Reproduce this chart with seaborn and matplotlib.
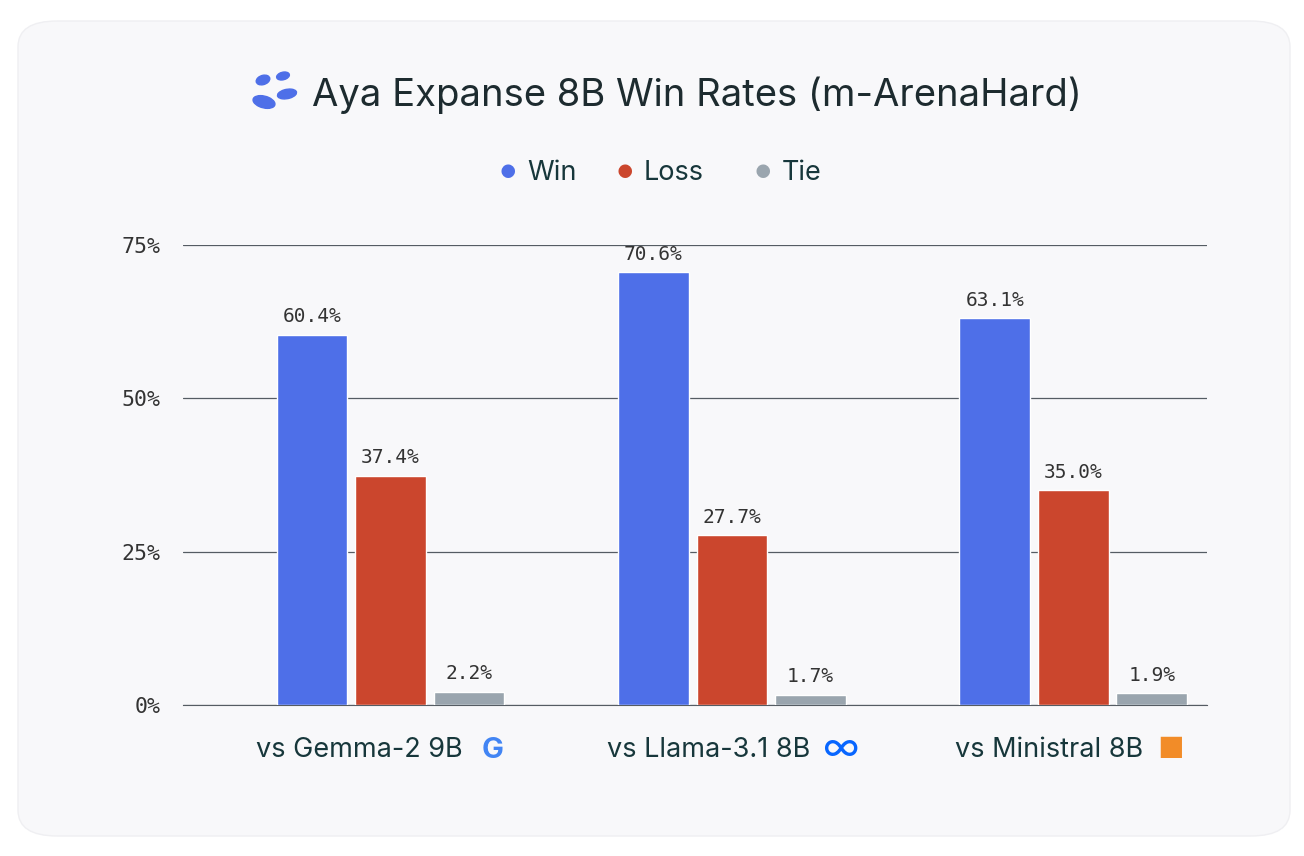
import matplotlib.pyplot as plt
import seaborn as sns
import pandas as pd
from matplotlib.patches import FancyBboxPatch, Ellipse

# data
opponents = ["vs Gemma-2 9B", "vs Llama-3.1 8B", "vs Ministral 8B"]
win = [60.4, 70.6, 63.1]
loss = [37.4, 27.7, 35.0]
tie = [2.2, 1.7, 1.9]
outcomes = ["Win", "Loss", "Tie"]
colors = ["#4e6fe8", "#cb462d", "#9aa5ae"]

rows = []
for i, opp in enumerate(opponents):
    for name, vals in zip(outcomes, [win, loss, tie]):
        rows.append({"opponent": opp, "outcome": name, "rate": vals[i]})
df = pd.DataFrame(rows)

sns.set_style("white")
plt.rcParams['font.family'] = ['Inter', 'DejaVu Sans']

fig = plt.figure(figsize=(13.04, 8.56), dpi=100)
fig.patch.set_facecolor("white")
card = FancyBboxPatch((18 / 1304, 20 / 856), 1272 / 1304, 815 / 856,
                      boxstyle="round,pad=0,rounding_size=0.03",
                      transform=fig.transFigure, facecolor="#f8f8fa",
                      edgecolor="#efeff2", lw=1, zorder=-5)
fig.patches.append(card)

ax = fig.add_axes([183 / 1304, 1 - 705 / 856, 1024 / 1304, 460 / 856])
ax.set_zorder(2)
ax.set_facecolor("none")
sns.barplot(data=df, x="opponent", y="rate", hue="outcome", palette=colors,
            width=0.69, gap=0.1, saturation=1, ax=ax, legend=False, zorder=3)
ax.set_xlim(-0.608, 2.392)
ax.set_ylim(0, 75)
ax.set_yticks([0, 25, 50, 75])
ax.set_yticklabels(["0%", "25%", "50%", "75%"], family="DejaVu Sans Mono",
                   fontsize=15.5, color="#333333")
ax.yaxis.grid(True, color="#555c63", lw=0.9)
ax.set_axisbelow(True)
for s in ["top", "left", "right"]:
    ax.spines[s].set_visible(False)
ax.spines["bottom"].set_color("#555c63")
ax.tick_params(axis="y", length=0, pad=16)
ax.tick_params(axis="x", length=0, labelbottom=False)
ax.set_xlabel("")
ax.set_ylabel("")

for cont in ax.containers:
    ax.bar_label(cont, labels=[f"{v:.1f}%" for v in cont.datavalues], padding=6,
                 family="DejaVu Sans Mono", fontsize=14, color="#333333")

# category labels with small brand marks
for name, xr in zip(opponents, [463, 810, 1143]):
    fig.text(xr / 1304, 1 - 750 / 856, name, fontsize=19.5, color="#17373b",
             ha="right", va="center")
fig.text(493 / 1304, 1 - 750 / 856, "G", fontsize=21, fontweight="bold",
         color="#4285f4", ha="center", va="center")
fig.text(840 / 1304, 1 - 750 / 856, "∞", fontsize=28, color="#0866ff",
         ha="center", va="center")
fig.text(1171 / 1304, 1 - 750 / 856, "■", fontsize=21, color="#f28c28",
         ha="center", va="center")

# title with leaf icon
fig.text(312 / 1304, 1 - 95 / 856, "Aya Expanse 8B Win Rates (m-ArenaHard)",
         fontsize=27.5, color="#1d2b2f", ha="left", va="center")
for (cx, cy, w, h, a) in [(264, 102, 24, 11, -35), (287, 94, 20, 9, 25),
                          (263, 80, 16, 8, 55), (283, 76, 14, 7, 40)]:
    fig.patches.append(Ellipse((cx / 1304, 1 - cy / 856), w / 1304, h / 856,
                               angle=a, transform=fig.transFigure,
                               color="#4e6fe8"))

# legend
for x0, name, c in zip([508, 625, 763], outcomes, colors):
    fig.text(x0 / 1304, 1 - 173 / 856, "●", fontsize=13, color=c,
             ha="center", va="center")
    fig.text((x0 + 19) / 1304, 1 - 173 / 856, name, fontsize=19.5,
             color="#17373b", ha="left", va="center")

fig.savefig("out.png", dpi=100, facecolor=fig.get_facecolor())
